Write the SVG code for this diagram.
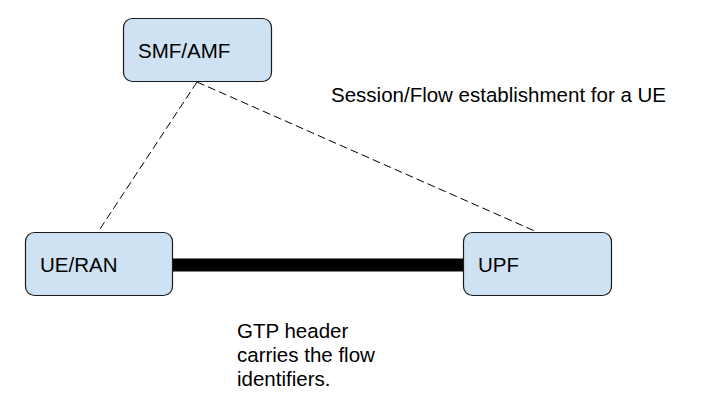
<svg xmlns="http://www.w3.org/2000/svg" width="721" height="412" viewBox="0 0 721 412">
<style>
.node{fill:#cfe2f3;stroke:#1a1a1a;stroke-width:1.2}
.t{font-family:"Liberation Sans",Arial,sans-serif;font-size:20.5px;fill:#000}
.dash{stroke:#000;stroke-width:1;stroke-dasharray:8,4;fill:none}
</style>
<rect width="721" height="412" fill="#fff"/>
<g id="connectors">
<line class="dash" x1="197" y1="82" x2="98" y2="232"/>
<line class="dash" x1="197" y1="82" x2="537" y2="232"/>
<line x1="172" y1="265" x2="463" y2="265" stroke="#000" stroke-width="13"/>
</g>
<g id="smf-amf">
<rect class="node" x="123.5" y="18.5" width="148" height="63" rx="9"/>
<text class="t" x="138" y="58">SMF/AMF</text>
</g>
<g id="ue-ran">
<rect class="node" x="25.5" y="232.5" width="147" height="63" rx="9"/>
<text class="t" x="40" y="272">UE/RAN</text>
</g>
<g id="upf">
<rect class="node" x="463.5" y="232.5" width="148" height="63" rx="9"/>
<text class="t" x="478" y="272">UPF</text>
</g>
<text class="t" x="331" y="102">Session/Flow establishment for a UE</text>
<text class="t" x="237" y="338">GTP header</text>
<text class="t" x="237" y="362">carries the flow</text>
<text class="t" x="237" y="386">identifiers.</text>
</svg>
